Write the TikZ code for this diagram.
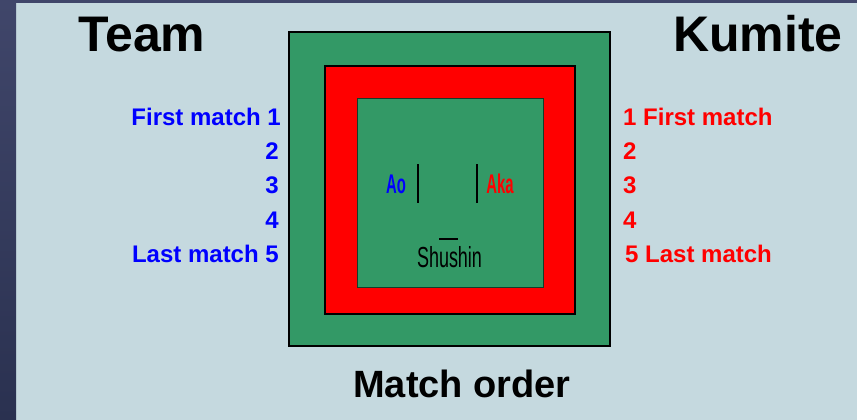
\documentclass[tikz,border=0pt]{standalone}
\usepackage{fontspec}
\setmainfont{Liberation Sans}
\definecolor{bgc}{HTML}{C5D9DF}
\definecolor{matgreen}{HTML}{339966}
\definecolor{stripTop}{HTML}{40466A}
\definecolor{stripBot}{HTML}{2A3150}
\tikzset{
  lbl/.style={inner sep=0pt, font=\bfseries\fontsize{24}{28}\selectfont},
  bluelbl/.style={lbl, text=blue, anchor=base east},
  redlbl/.style={lbl, text=red, anchor=base west},
  title/.style={inner sep=0pt, anchor=base, font=\bfseries\fontsize{50}{56}\selectfont},
  posline/.style={line width=2.8pt, black},
}
\begin{document}
\begin{tikzpicture}[x=1pt,y=-1pt]
\useasboundingbox (0,0) rectangle (857,420);
\fill[bgc] (0,0) rectangle (857,420);
\shade[top color=stripTop, bottom color=stripBot] (0,0) rectangle (16,420);
\fill[stripTop] (16,0) rectangle (857,3);
% mat
\filldraw[fill=matgreen, draw=black, line width=2.6pt] (289,32) rectangle (610,346);
\filldraw[fill=red, draw=black, line width=2pt] (325,66) rectangle (575,314);
\filldraw[fill=matgreen, draw=black!60!matgreen, line width=0.6pt] (357,98) rectangle (543,287);
% titles
\node[title] (team) at (142,52) {Team};
\node[title] (kumite) at (758,52) {Kumite};
\node[title, font=\bfseries\fontsize{38}{44}\selectfont] (order) at (462,397) {Match order};
% blue side
\node[bluelbl] (b1) at (281,125) {First match 1};
\node[bluelbl] (b2) at (279,159) {2};
\node[bluelbl] (b3) at (279,193) {3};
\node[bluelbl] (b4) at (279,228) {4};
\node[bluelbl] (b5) at (279,262) {Last match 5};
% red side
\node[redlbl] (r1) at (623,125) {1 First match};
\node[redlbl] (r2) at (623,159) {2};
\node[redlbl] (r3) at (623,193) {3};
\node[redlbl] (r4) at (623,228) {4};
\node[redlbl] (r5) at (625,262) {5 Last match};
% competitors and referee
\node[inner sep=0pt, anchor=base, text=blue] (ao) at (396,193) {\scalebox{0.55}[1]{\bfseries\fontsize{27}{30}\selectfont Ao}};
\node[inner sep=0pt, anchor=base, text=red] (aka) at (500,193) {\scalebox{0.55}[1]{\bfseries\fontsize{27}{30}\selectfont Aka}};
\node[inner sep=0pt, anchor=base, text=black] (shushin) at (449.5,267) {\scalebox{0.62}[1]{\fontsize{29}{33}\selectfont Shushin}};
\coordinate (aoT) at (418,164); \coordinate (aoB) at (418,203);
\coordinate (akaT) at (477,164); \coordinate (akaB) at (477,203);
\coordinate (shL) at (439,239); \coordinate (shR) at (458,239);
\draw[posline] (aoT) -- (aoB);
\draw[posline] (akaT) -- (akaB);
\draw[posline] (shL) -- (shR);
\end{tikzpicture}
\end{document}
